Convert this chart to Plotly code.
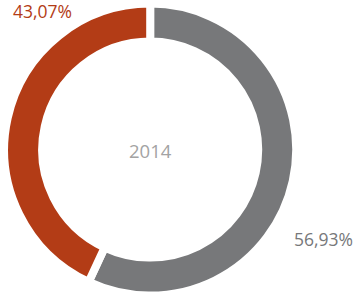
import plotly.graph_objects as go

labels = ["Grau", "Rot"]
values = [56.93, 43.07]
colors = ["#77787a", "#b33c16"]
center_label = "2014"

W, H = 361, 300
cx, cy = 150.2, 149.6
gap = 8
r_vis, r_in_vis = 142, 112
r = r_vis + gap / 2
hole = (r_in_vis - gap / 2) / r

fig = go.Figure()
fig.add_trace(go.Pie(
    labels=labels, values=values, hole=hole, sort=False,
    direction="clockwise", rotation=0,
    marker=dict(colors=colors, line=dict(color="white", width=gap)),
    textinfo="none", hoverinfo="none", showlegend=False,
    domain=dict(x=[(cx - r) / W, (cx + r) / W], y=[(H - cy - r) / H, (H - cy + r) / H]),
))

def fmt(v):
    return f"{v:.2f}".replace(".", ",") + "%"

fig.add_annotation(x=11 / W, y=1 - 11 / H, xref="paper", yref="paper",
                   text=fmt(values[1]), showarrow=False, xanchor="left", yanchor="middle",
                   font=dict(family="Open Sans", size=17.5, color=colors[1]))
fig.add_annotation(x=355 / W, y=1 - 239 / H, xref="paper", yref="paper",
                   text=fmt(values[0]), showarrow=False, xanchor="right", yanchor="middle",
                   font=dict(family="Open Sans", size=17.5, color=colors[0]))
fig.add_annotation(x=cx / W, y=1 - 150 / H, xref="paper", yref="paper",
                   text=center_label, showarrow=False, xanchor="center", yanchor="middle",
                   font=dict(family="Open Sans", size=18.5, color="#a3a3a3"))

fig.update_layout(width=W, height=H, margin=dict(l=0, r=0, t=0, b=0),
                  paper_bgcolor="white", plot_bgcolor="white")
fig.write_html("out.html")
